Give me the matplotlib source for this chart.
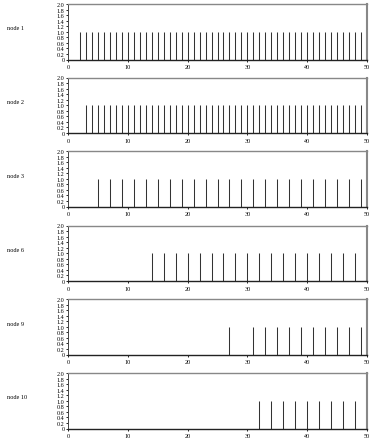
import numpy as np
import matplotlib.pyplot as plt

plt.rcParams['font.family'] = ['Liberation Serif', 'DejaVu Serif']

node_names = ['node 1', 'node 2', 'node 3', 'node 6', 'node 9', 'node 10']
node1_times = list(range(2, 50))
node2_times = list(range(3, 50))
node3_times = list(range(5, 50, 2))
node6_times = list(range(14, 49, 2))
node9_times = [27] + list(range(31, 50, 2))
node10_times = list(range(32, 49, 2))
all_times = [node1_times, node2_times, node3_times, node6_times, node9_times, node10_times]

x_ticks = [0, 10, 20, 30, 40, 50]
y_ticks = [0, 0.2, 0.4, 0.6, 0.8, 1.0, 1.2, 1.4, 1.6, 1.8, 2.0]
y_labels = ['0', '0.2', '0.4', '0.6', '0.8', '1.0', '1.2', '1.4', '1.6', '1.8', '2.0']

fig = plt.figure(figsize=(3.74, 4.39), dpi=100)

W, H = 374, 439
tops = [5, 78.5, 152, 226.5, 300, 374]
ax_h = 55.5
left_px, right_px = 68, 367

for name, times, top in zip(node_names, all_times, tops):
    ax = fig.add_axes([left_px / W, 1 - (top + ax_h) / H, (right_px - left_px) / W, ax_h / H])
    ax.vlines(times, 0, 1, colors='#333333', linewidth=0.75)
    ax.set_xlim(0, 50)
    ax.set_ylim(0, 2.0)
    ax.set_xticks(x_ticks)
    ax.set_yticks(y_ticks)
    ax.set_yticklabels(y_labels)
    ax.tick_params(axis='both', labelsize=4.4, length=1.5, width=0.6, pad=1)
    ax.tick_params(axis='x', length=1.5, pad=2)
    ax.spines['top'].set_color('#888888')
    ax.spines['top'].set_linewidth(1.0)
    ax.spines['right'].set_color('#888888')
    ax.spines['right'].set_linewidth(1.5)
    ax.spines['bottom'].set_color('#222222')
    ax.spines['bottom'].set_linewidth(1.0)
    ax.spines['left'].set_color('#444444')
    ax.spines['left'].set_linewidth(0.7)
    fig.text(7 / W, 1 - (top + 24) / H, name, fontsize=4.5, ha='left', va='center')

fig.savefig('out.png', dpi=100)
